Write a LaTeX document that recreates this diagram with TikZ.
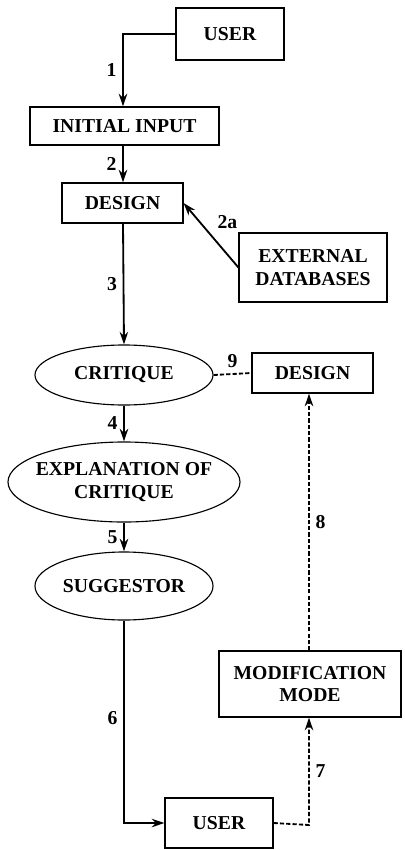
\documentclass[tikz,border=0pt]{standalone}
\usepackage{fontspec}
\setmainfont{Liberation Serif}
\usetikzlibrary{arrows.meta,shapes.geometric}

\tikzset{
  box/.style={draw, thick, rectangle, align=center, inner sep=1pt},
  oval/.style={draw, thick, ellipse, align=center, inner sep=0pt},
  flow/.style={-{Stealth[length=9pt,width=6pt]}, line width=1.3pt},
  modflow/.style={-{Stealth[length=9pt,width=6pt]}, line width=1.3pt, dash pattern=on 3pt off 1.5pt},
  num/.style={font=\fontsize{14}{16}\selectfont\bfseries, inner sep=4pt}
}

\begin{document}
\begin{tikzpicture}[x=0.025cm, y=-0.025cm, font=\fontsize{14}{16}\selectfont\bfseries]
    \useasboundingbox (0,0) rectangle (404,850);

    % Boxes
    \node[box, minimum width=2.7cm, minimum height=1.3cm] (user1) at (230,34) {USER};
    \node[box, minimum width=4.725cm, minimum height=0.95cm] (input) at (124.5,126) {INITIAL INPUT};
    \node[box, minimum width=3.025cm, minimum height=1cm] (design1) at (122.5,203) {DESIGN};
    \node[box, minimum width=3.7cm, minimum height=1.725cm] (extdb) at (313,267.5) {EXTERNAL\\DATABASES};
    \node[box, minimum width=3.025cm, minimum height=1cm] (design2) at (312.5,373) {DESIGN};
    \node[box, minimum width=4.55cm, minimum height=1.65cm] (modmode) at (310,684) {MODIFICATION\\MODE};
    \node[box, minimum width=2.7cm, minimum height=1.25cm] (user2) at (219,823) {USER};

    % Ovals
    \node[oval, minimum width=4.45cm, minimum height=1.5cm] (critique) at (124,375) {CRITIQUE};
    \node[oval, inner sep=-9pt, minimum width=5.8cm, minimum height=2cm] (expl) at (124,482) {EXPLANATION OF\\CRITIQUE};
    \node[oval, minimum width=4.45cm, minimum height=1.7cm] (sugg) at (124,586) {SUGGESTOR};

    % Corner points
    \coordinate (c1) at (123,34);
    \coordinate (c7) at (309,825);

    % Main flow
    \draw[flow] (user1.west) -- (c1) -- node[num, left] {1} (c1 |- input.north);
    \draw[flow] (input.south -| c1) -- node[num, left] {2} (design1.north -| c1);
    \draw[flow] (extdb.west) -- node[num, above right] {2a} (design1.east);
    \draw[flow] (design1.south -| c1) -- node[num, left] {3} (critique.north);
    \draw[flow] (critique.south) -- node[num, left] {4} (expl.north);
    \draw[flow] (expl.south) -- node[num, left] {5} (sugg.north);
    \draw[flow] (sugg.south) -- node[num, left, pos=0.48] {6} (sugg.south |- user2.west) -- (user2.west);

    % Modification loop
    \draw[line width=1.3pt, dash pattern=on 3pt off 1.5pt] (critique.east) -- node[num, above] {9} (design2.west);
    \draw[modflow] (user2.east) -- (c7) -- node[num, right] {7} (c7 |- modmode.south);
    \draw[modflow] (modmode.north -| c7) -- node[num, right] {8} (design2.south -| c7);
\end{tikzpicture}
\end{document}
